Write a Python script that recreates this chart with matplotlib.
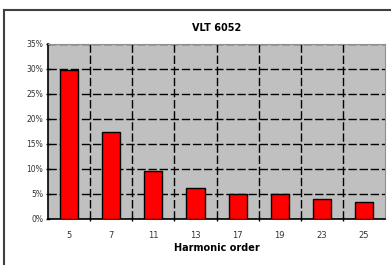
import matplotlib.pyplot as plt
from matplotlib.lines import Line2D
import numpy as np

orders = ['5', '7', '11', '13', '17', '19', '23', '25']
thd = [29.7, 17.4, 9.6, 6.1, 5.0, 5.0, 3.9, 3.3]
yticks = [0, 5, 10, 15, 20, 25, 30, 35]

fig = plt.figure(figsize=(3.91, 2.65), dpi=100)
ax = fig.add_axes([0.1228, 0.1736, 0.8619, 0.6604])
ax.set_facecolor('#c0c0c0')

x = np.arange(len(orders))
ax.bar(x, thd, width=0.43, color='#ff0000', edgecolor='black', linewidth=1, zorder=3)

ax.set_xlim(-0.5, len(orders) - 0.5)
ax.set_ylim(0, 35)

ax.set_yticks(yticks)
ax.set_yticklabels([f'{v}%' for v in yticks], fontsize=5.5, color='#333333')
ax.set_xticks(x)
ax.set_xticklabels(orders, fontsize=6, color='#333333')
ax.set_xticks(np.arange(0.5, len(orders) - 1, 1), minor=True)
ax.tick_params(axis='x', which='major', length=0, pad=9)
ax.tick_params(axis='x', which='minor', length=3, direction='inout', width=1)
ax.tick_params(axis='y', length=3, direction='inout', width=1, pad=2)

ax.grid(axis='y', which='major', color='black', linestyle=(0, (6, 2)), linewidth=1, zorder=1)
ax.grid(axis='x', which='minor', color='black', linestyle=(0, (6, 2)), linewidth=1, zorder=1)

for s in ['top', 'right']:
    ax.spines[s].set_color('#909090')
for s in ['left', 'bottom']:
    ax.spines[s].set_color('black')
    ax.spines[s].set_linewidth(1.2)

ax.set_title('VLT 6052', fontsize=7, fontweight='bold', pad=9)
ax.set_xlabel('Harmonic order', fontsize=7, fontweight='bold', labelpad=2)

# outer chart frame
fig.add_artist(Line2D([4/391, 1], [1 - 10/265, 1 - 10/265], transform=fig.transFigure, color='#404040', lw=1.5))
fig.add_artist(Line2D([4/391, 4/391], [0, 1 - 10/265], transform=fig.transFigure, color='#404040', lw=1.5))

fig.savefig('out.png', dpi=100)
